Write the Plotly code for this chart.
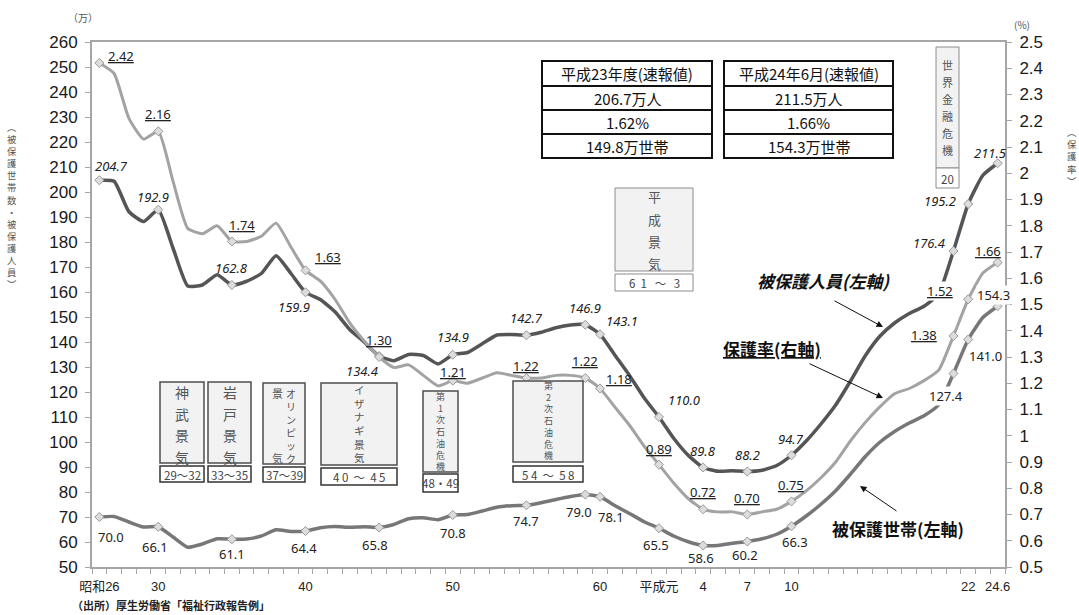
import plotly.graph_objects as go

# ---------------- data ----------------
CATEGORIES = [str(y) for y in range(1951, 2012)] + ["2012.6"]

PERSONS = [204.7, 204.3, 192.2, 188.2, 192.9, 177.6, 162.4, 162.8, 166.9, 162.8,
           164.3, 167.4, 174.5, 167.5, 159.9, 157.0, 152.1, 145.0, 139.9, 134.4,
           132.5, 135.0, 134.6, 131.2, 134.9, 135.8, 139.3, 142.8, 143.0, 142.7,
           143.9, 145.7, 146.8, 146.9, 143.1, 134.8, 126.6, 117.6, 110.0, 101.5,
           94.6, 89.8, 88.3, 88.5, 88.2, 88.7, 90.6, 94.7, 100.4, 107.2,
           114.8, 124.3, 134.4, 142.3, 147.6, 151.4, 154.3, 159.3, 176.4, 195.2,
           206.7, 211.5]

RATE = [2.42, 2.38, 2.21, 2.13, 2.16, 1.97, 1.79, 1.77, 1.80, 1.74,
        1.74, 1.76, 1.81, 1.72, 1.63, 1.59, 1.52, 1.43, 1.36, 1.30,
        1.26, 1.27, 1.23, 1.19, 1.21, 1.20, 1.22, 1.24, 1.23, 1.22,
        1.22, 1.23, 1.23, 1.22, 1.18, 1.11, 1.04, 0.96, 0.89, 0.82,
        0.76, 0.72, 0.71, 0.71, 0.70, 0.71, 0.72, 0.75, 0.79, 0.84,
        0.90, 0.98, 1.05, 1.11, 1.16, 1.18, 1.21, 1.25, 1.38, 1.52,
        1.62, 1.66]

HOUSEHOLDS = [70.0, 70.2, 68.0, 66.0, 66.1, 62.0, 57.9, 59.2, 61.3, 61.1,
              61.2, 62.4, 64.9, 64.2, 64.4, 65.7, 66.2, 65.9, 66.1, 65.8,
              67.0, 69.3, 69.7, 68.9, 70.8, 71.0, 72.4, 73.9, 74.5, 74.7,
              75.7, 77.0, 78.2, 79.0, 78.1, 74.6, 71.4, 68.1, 65.5, 62.4,
              60.1, 58.6, 58.6, 59.5, 60.2, 61.3, 63.1, 66.3, 70.4, 75.1,
              80.5, 87.1, 94.1, 99.9, 104.2, 107.6, 110.5, 114.9, 127.4, 141.0,
              149.8, 154.3]

LABELLED = ["1951", "1955", "1960", "1965", "1970", "1975", "1980", "1984", "1985",
            "1989", "1992", "1995", "1998", "2009", "2010", "2012.6"]

TICK_CATS = ["1951", "1955", "1965", "1975", "1985", "1989", "1992", "1995", "1998", "2010", "2012.6"]
TICK_TEXT = ["昭和26", "30", "40", "50", "60", "平成元", "4", "7", "10", "22", "24.6"]

BOOMS = [
    ("神武景気", "29～32"),
    ("岩戸景気", "33～35"),
    ("オリンピック景気", "37～39"),
    ("イザナギ景気", "4 0  ～  4 5"),
    ("第1次石油危機", "48・49"),
    ("第2次石油危機", "5 4  ～  5 8"),
    ("平成景気", "6  1   ～   3"),
    ("世界金融危機", "20"),
]

TABLE_HEADS = ["平成23年度(速報値)", "平成24年6月(速報値)"]
TABLE_CATS = ["2011", "2012.6"]

# ---------------- helpers ----------------
X = list(range(len(CATEGORIES)))
IDX = {c: i for i, c in enumerate(CATEGORIES)}
L, R, T, B = 92, 1005, 42, 567


def px(x):
    return (x - L) / (R - L)


def py(y):
    return (B - y) / (B - T)


CJK = "Noto Sans CJK JP"
NUM = "Noto Sans, Noto Sans CJK JP"
AX = "Liberation Sans, Arial, Noto Sans CJK JP"

C_PERS = "#555555"
C_RATE = "#a3a3a3"
C_HH = "#777777"

fig = go.Figure()

fig.add_trace(go.Scatter(x=X, y=RATE, yaxis="y2", mode="lines",
                         line=dict(color=C_RATE, width=3, shape="spline", smoothing=0.5),
                         hoverinfo="skip"))
fig.add_trace(go.Scatter(x=X, y=PERSONS, mode="lines",
                         line=dict(color=C_PERS, width=3.5, shape="spline", smoothing=0.5),
                         hoverinfo="skip"))
fig.add_trace(go.Scatter(x=X, y=HOUSEHOLDS, mode="lines",
                         line=dict(color=C_HH, width=3.5, shape="spline", smoothing=0.5),
                         hoverinfo="skip"))

lab_idx = [IDX[c] for c in LABELLED]
mk = dict(symbol="diamond", size=7, color="#dcdcdc", line=dict(color="#9a9a9a", width=1))
fig.add_trace(go.Scatter(x=lab_idx, y=[PERSONS[i] for i in lab_idx], mode="markers", marker=mk))
fig.add_trace(go.Scatter(x=lab_idx, y=[HOUSEHOLDS[i] for i in lab_idx], mode="markers", marker=mk))
fig.add_trace(go.Scatter(x=lab_idx, y=[RATE[i] for i in lab_idx], yaxis="y2", mode="markers", marker=mk))

ann = []
shapes = []

# data labels : offsets (dx, dy) in screen pixels
P_OFF = [(12, -14), (-5, -13), (0, -17), (-12, 15), (-17, 15), (0, -18), (0, -17), (0, -17),
         (22, -13), (25, -17), (0, -17), (0, -17), (0, -16), (-24, -8), (-28, -3), (-8, -10)]
R_OFF = [(22, -7), (0, -17), (10, -17), (22, -13), (0, -17), (0, -9), (0, -12), (0, -17),
         (19, -10), (0, -16), (0, -17), (0, -17), (0, -16), (-29, -1), (-28, -8), (-10, -12)]
H_OFF = [(12, 20), (-3, 20), (0, 15), (-2, 17), (-4, 17), (0, 18), (0, 16), (-6, 17),
         (11, 20), (-3, 17), (-2, 12), (-2, 13), (4, 16), (-7, 22), (17, 16), (-4, -11)]
WHITE_BG = {("r", "2010"), ("h", "2009"), ("h", "2010"), ("h", "2012.6")}

for c, (dx, dy) in zip(LABELLED, P_OFF):
    i = IDX[c]
    ann.append(dict(x=i, y=PERSONS[i], xref="x", yref="y", text=f"<i>{PERSONS[i]:.1f}</i>",
                    showarrow=False, xshift=dx, yshift=-dy,
                    font=dict(family=NUM, size=13, color="#222")))
for c, (dx, dy) in zip(LABELLED, R_OFF):
    i = IDX[c]
    ann.append(dict(x=i, y=RATE[i], xref="x", yref="y2", text=f"{RATE[i]:.2f}",
                    showarrow=False, xshift=dx, yshift=-dy, borderpad=0,
                    bgcolor="white" if ("r", c) in WHITE_BG else "rgba(0,0,0,0)",
                    font=dict(family=NUM, size=13, color="#222", lineposition="under")))
for c, (dx, dy) in zip(LABELLED, H_OFF):
    i = IDX[c]
    ann.append(dict(x=i, y=HOUSEHOLDS[i], xref="x", yref="y", text=f"{HOUSEHOLDS[i]:.1f}",
                    showarrow=False, xshift=dx, yshift=-dy, borderpad=0,
                    bgcolor="white" if ("h", c) in WHITE_BG else "rgba(0,0,0,0)",
                    font=dict(family=NUM, size=13, color="#222")))


def rect(x0, x1, y0, y1, fill, lc, lw):
    shapes.append(dict(type="rect", xref="paper", yref="paper", x0=px(x0), x1=px(x1),
                       y0=py(y1), y1=py(y0), fillcolor=fill, line=dict(color=lc, width=lw),
                       layer="above"))


def txt(s, x, y, size, color="#444", family=CJK, **kw):
    ann.append(dict(xref="paper", yref="paper", x=px(x), y=py(y), text=s, showarrow=False,
                    xanchor="center", yanchor="middle", borderpad=0,
                    font=dict(family=family, size=size, color=color), **kw))


def vcol(chars, x, y0, y1, size, color="#555"):
    """vertical column of characters; one text block whose line pitch is 1.3*size"""
    txt("<br>".join(chars), x, (y0 + y1) / 2, size, color)


def vsep(chars, x, ys, size, color="#555"):
    for ch, y in zip(chars, ys):
        txt(ch, x, y, size, color)


def spread(y0, y1, n):
    return [y0 + (y1 - y0) * k / (n - 1) for k in range(n)]


FILL = "#f2f2f2"
BORD = "#4d4d4d"

# boom / crisis boxes : (x0, x1, y0, y1, char centre top, char centre bottom, font, range y0, y1)
BOX_GEOM = [
    (160, 204, 382, 463, 392, 457, 14, 466, 482),
    (208, 251, 382, 463, 392, 457, 14, 466, 482),
    (263, 305, 383, 464, 393, 458, 10, 467, 482),
    (321, 397, 383, 465, 389, 457, 10.5, 468, 485),
    (423, 458, 391, 472, 396, 467, 9, 474, 492),
    (513, 583, 381, 462, 385, 456, 9, 466, 482),
    (615, 693, 188, 271, 197, 263, 13, 274, 291),
    (936, 959, 47, 168, 65, 150, 11, 168, 188),
]
for (name, rng), (x0, x1, y0, y1, c0, c1, fs, r0, r1) in zip(BOOMS, BOX_GEOM):
    light = name in ("平成景気", "世界金融危機")
    rect(x0, x1, y0, y1, FILL, "#8c8c8c" if light else BORD, 1 if light else 1.5)
    rect(x0, x1, r0, r1, "white", "#8c8c8c" if light else "#333", 1 if light else 1.5)
    xc = (x0 + x1) / 2
    n = len(name)
    if name == "オリンピック景気":
        vcol(list(name[:6]), 291, c0, c1, fs)
        vsep(list(name[6:]), 277, [c0, c1], 11)
    elif fs * 1.3 + 1 > (c1 - c0) / (n - 1):
        vcol(list(name), xc, c0, c1, fs)
    else:
        vsep(list(name), xc, spread(c0, c1, n), fs)
    txt(rng, xc, (r0 + r1) / 2 + 0.5, 11.5, "#444")

# summary tables
ROW_Y = [61, 86, 110, 134, 158]
for head, cat, (x0, x1) in zip(TABLE_HEADS, TABLE_CATS, [(542, 712), (724, 893)]):
    i = IDX[cat]
    cells = [head, f"{PERSONS[i]:.1f}万人", f"{RATE[i]:.2f}%", f"{HOUSEHOLDS[i]:.1f}万世帯"]
    for k, s in enumerate(cells):
        rect(x0, x1, ROW_Y[k], ROW_Y[k + 1], "white", "#111", 2)
        txt(s, (x0 + x1) / 2, (ROW_Y[k] + ROW_Y[k + 1]) / 2, 15, "#111")

# series callouts with arrows
txt("<b><i>被保護人員(左軸)</i></b>", 823, 280, 17, "#111")
txt("<b>保護率(右軸)</b>", 772, 348, 17, "#111")
ann[-1]["font"]["lineposition"] = "under"
txt("<b>被保護世帯(左軸)</b>", 898, 528, 17, "#111")
for hx, hy, ax, ay in [(883, 327, -50, -27), (883, 398, -75, -35), (860, 486, 38, 26)]:
    ann.append(dict(xref="paper", yref="paper", x=px(hx), y=py(hy), text="", showarrow=True,
                    ax=ax, ay=ay, arrowhead=2, arrowsize=1.3, arrowwidth=1, arrowcolor="#111"))

# axis titles / units / source
txt("（万）", 83, 18, 10, "#555")
txt("(%)", 1022, 25, 10, "#555")
vcol(list("︵被保護世帯数・被保護人員︶"), 12, 120, 290, 9.3, "#555")
vcol(list("︵保護率︶"), 1072, 132, 181, 9.4, "#555")
txt("<b>（出所）厚生労働省「福祉行政報告例」</b>", 171, 605, 11, "#222")

rate_ticks = [round(0.5 + 0.1 * k, 1) for k in range(21)]

fig.update_layout(
    width=1079, height=615,
    margin=dict(l=L, r=1079 - R, t=T, b=615 - B),
    plot_bgcolor="white", paper_bgcolor="white", showlegend=False,
    xaxis=dict(range=[-0.5, len(CATEGORIES) - 0.5], tickmode="array",
               tickvals=[IDX[c] for c in TICK_CATS], ticktext=TICK_TEXT,
               ticks="", showgrid=False, zeroline=False, showline=True, mirror=True,
               linecolor="#a6a6a6", linewidth=2, ticklabelstandoff=6,
               tickfont=dict(family=AX, size=13, color="#222"),
               minor=dict(tickmode="linear", tick0=-0.5, dtick=1, ticks="outside",
                          ticklen=5, tickcolor="#a6a6a6", tickwidth=1, showgrid=False)),
    yaxis=dict(range=[50, 260], tickmode="linear", tick0=50, dtick=10,
               ticks="outside", ticklen=5, tickcolor="#a6a6a6", tickwidth=1,
               showgrid=False, zeroline=False, showline=True, linecolor="#a6a6a6", linewidth=2,
               tickfont=dict(family=AX, size=17, color="#1a1a1a"), ticklabelstandoff=4),
    yaxis2=dict(range=[0.5, 2.5], overlaying="y", side="right", tickmode="array",
                tickvals=rate_ticks, ticktext=[f"{v:g}" for v in rate_ticks],
                ticks="outside", ticklen=5, tickcolor="#a6a6a6", tickwidth=1,
                showgrid=False, zeroline=False, showline=True, linecolor="#a6a6a6", linewidth=2,
                tickfont=dict(family=AX, size=17, color="#1a1a1a"), ticklabelstandoff=4),
    annotations=ann,
    shapes=shapes,
)

fig.write_html("out.html")
